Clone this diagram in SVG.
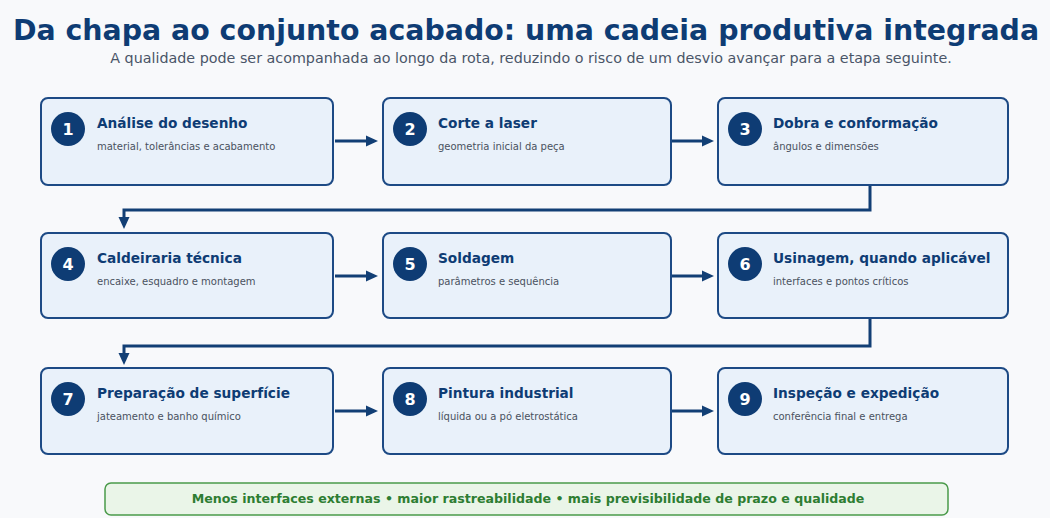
<svg xmlns="http://www.w3.org/2000/svg" width="1050" height="518" viewBox="0 0 1050 518">
<style>
.bg{fill:#f8f9fb}
.box{fill:#e9f1fa;stroke:#1d4a85;stroke-width:2}
.num{fill:#0e3c74}
.numt{fill:#fff;font-family:"DejaVu Sans",sans-serif;font-weight:bold;font-size:16px;text-anchor:middle}
.t{fill:#0e3c74;font-family:"DejaVu Sans",sans-serif;font-weight:bold;font-size:13.7px}
.s{fill:#4a5160;font-family:"DejaVu Sans",sans-serif;font-size:10px}
.c{fill:none;stroke:#123f75;stroke-width:3}
</style>
<defs>
<marker id="ah" markerWidth="12" markerHeight="12" refX="8" refY="6" orient="auto" markerUnits="userSpaceOnUse">
<path d="M0,0.5 L12,6 L0,11.5 Z" fill="#123f75"/>
</marker>
</defs>
<rect class="bg" width="1050" height="518"/>
<text x="526" y="40" text-anchor="middle" font-family="DejaVu Sans, sans-serif" font-weight="bold" font-size="28.4" fill="#0e3c74">Da chapa ao conjunto acabado: uma cadeia produtiva integrada</text>
<text x="531" y="63" text-anchor="middle" font-family="DejaVu Sans, sans-serif" font-size="14.3" fill="#4a5568">A qualidade pode ser acompanhada ao longo da rota, reduzindo o risco de um desvio avançar para a etapa seguinte.</text>

<g id="connectors">
<line class="c" x1="335" y1="141" x2="374" y2="141" marker-end="url(#ah)"/>
<line class="c" x1="672" y1="141" x2="710" y2="141" marker-end="url(#ah)"/>
<polyline class="c" points="870,185 870,210 124,210 124,225" marker-end="url(#ah)"/>
<line class="c" x1="335" y1="276" x2="374" y2="276" marker-end="url(#ah)"/>
<line class="c" x1="672" y1="276" x2="710" y2="276" marker-end="url(#ah)"/>
<polyline class="c" points="870,318 870,346 124,346 124,361" marker-end="url(#ah)"/>
<line class="c" x1="335" y1="411" x2="374" y2="411" marker-end="url(#ah)"/>
<line class="c" x1="672" y1="411" x2="710" y2="411" marker-end="url(#ah)"/>
</g>

<g id="n1"><rect class="box" x="41" y="98" width="292" height="87" rx="7"/><circle class="num" cx="68" cy="129" r="17"/><text class="numt" x="68" y="135">1</text><text class="t" x="97" y="128">Análise do desenho</text><text class="s" x="97" y="150">material, tolerâncias e acabamento</text></g>
<g id="n2"><rect class="box" x="383" y="98" width="288" height="87" rx="7"/><circle class="num" cx="410" cy="129" r="17"/><text class="numt" x="410" y="135">2</text><text class="t" x="438" y="128">Corte a laser</text><text class="s" x="438" y="150">geometria inicial da peça</text></g>
<g id="n3"><rect class="box" x="718" y="98" width="290" height="87" rx="7"/><circle class="num" cx="745" cy="129" r="17"/><text class="numt" x="745" y="135">3</text><text class="t" x="773" y="128">Dobra e conformação</text><text class="s" x="773" y="150">ângulos e dimensões</text></g>

<g id="n4"><rect class="box" x="41" y="233" width="292" height="85" rx="7"/><circle class="num" cx="68" cy="264" r="17"/><text class="numt" x="68" y="270">4</text><text class="t" x="97" y="263">Caldeiraria técnica</text><text class="s" x="97" y="285">encaixe, esquadro e montagem</text></g>
<g id="n5"><rect class="box" x="383" y="233" width="288" height="85" rx="7"/><circle class="num" cx="410" cy="264" r="17"/><text class="numt" x="410" y="270">5</text><text class="t" x="438" y="263">Soldagem</text><text class="s" x="438" y="285">parâmetros e sequência</text></g>
<g id="n6"><rect class="box" x="718" y="233" width="290" height="85" rx="7"/><circle class="num" cx="745" cy="264" r="17"/><text class="numt" x="745" y="270">6</text><text class="t" x="773" y="263">Usinagem, quando aplicável</text><text class="s" x="773" y="285">interfaces e pontos críticos</text></g>

<g id="n7"><rect class="box" x="41" y="368" width="292" height="86" rx="7"/><circle class="num" cx="68" cy="399" r="17"/><text class="numt" x="68" y="405">7</text><text class="t" x="97" y="398">Preparação de superfície</text><text class="s" x="97" y="420">jateamento e banho químico</text></g>
<g id="n8"><rect class="box" x="383" y="368" width="288" height="86" rx="7"/><circle class="num" cx="410" cy="399" r="17"/><text class="numt" x="410" y="405">8</text><text class="t" x="438" y="398">Pintura industrial</text><text class="s" x="438" y="420">líquida ou a pó eletrostática</text></g>
<g id="n9"><rect class="box" x="718" y="368" width="290" height="86" rx="7"/><circle class="num" cx="745" cy="399" r="17"/><text class="numt" x="745" y="405">9</text><text class="t" x="773" y="398">Inspeção e expedição</text><text class="s" x="773" y="420">conferência final e entrega</text></g>

<g id="banner"><rect x="105" y="483" width="843" height="32" rx="6" fill="#eaf5e8" stroke="#4a9a4a" stroke-width="1.5"/><text x="528" y="503" text-anchor="middle" font-family="DejaVu Sans, sans-serif" font-weight="bold" font-size="12.6" fill="#2e7d32">Menos interfaces externas • maior rastreabilidade • mais previsibilidade de prazo e qualidade</text></g>
</svg>
